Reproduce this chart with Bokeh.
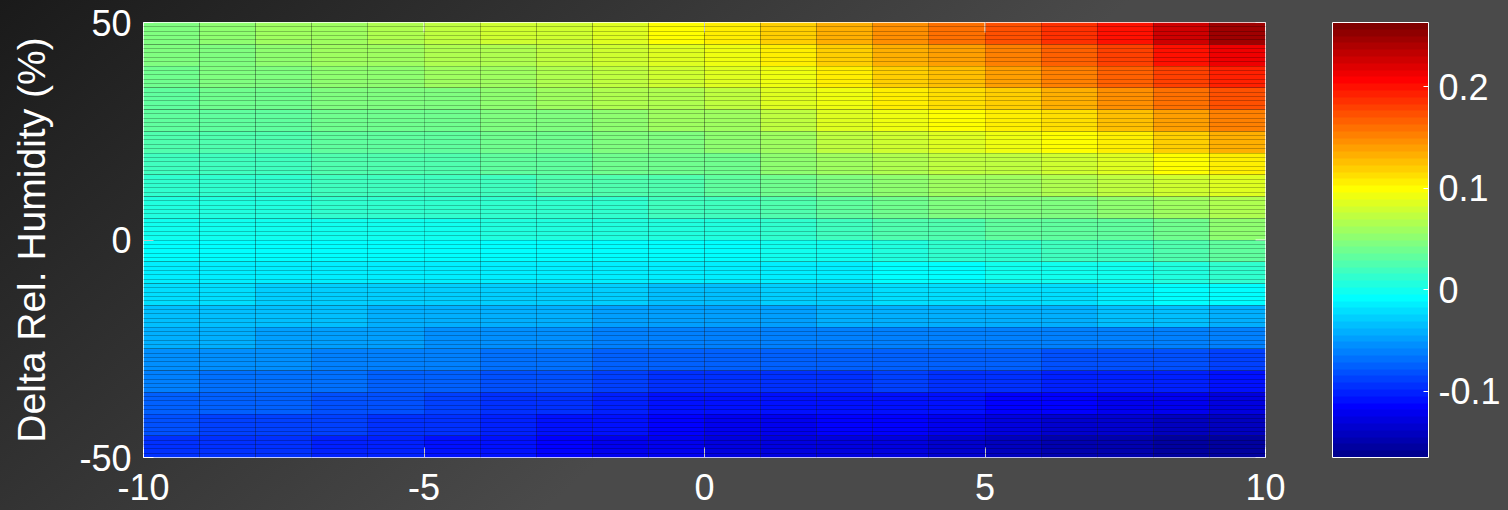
import numpy as np
from bokeh.plotting import figure
from bokeh.models import (ColumnDataSource, LinearColorMapper, ColorBar, FixedTicker,
                          SingleIntervalTicker, CustomJSTickFormatter)
from bokeh.transform import transform
from bokeh.embed import file_html
from bokeh.resources import INLINE

# Delta temperature: left edge of each column (unit-wide cells)
delta_t = [-10, -9, -8, -7, -6, -5, -4, -3, -2, -1, 0, 1, 2, 3, 4, 5, 6, 7, 8, 9]
# Delta relative humidity (%): centre of each 5 % band, bottom to top
delta_rh = [-47.5, -42.5, -37.5, -32.5, -27.5, -22.5, -17.5, -12.5, -7.5, -2.5,
            2.5, 7.5, 12.5, 17.5, 22.5, 27.5, 32.5, 37.5, 42.5, 47.5]

# Response value per band, one list per humidity band (columns follow delta_t)
rh_m475 = [-.093, -.096, -.098, -.101, -.103, -.106, -.110, -.115, -.119, -.124, -.128, -.128, -.127, -.128, -.135, -.141, -.146, -.150, -.154, -.158]
rh_m425 = [-.083, -.086, -.089, -.091, -.094, -.097, -.102, -.107, -.111, -.116, -.120, -.119, -.118, -.118, -.123, -.128, -.132, -.136, -.140, -.144]
rh_m375 = [-.072, -.075, -.078, -.081, -.084, -.087, -.092, -.097, -.102, -.106, -.110, -.109, -.107, -.106, -.110, -.113, -.116, -.119, -.123, -.127]
rh_m325 = [-.062, -.065, -.068, -.070, -.073, -.076, -.080, -.084, -.088, -.092, -.095, -.094, -.092, -.091, -.094, -.097, -.099, -.101, -.104, -.107]
rh_m275 = [-.052, -.054, -.057, -.059, -.062, -.064, -.067, -.070, -.073, -.076, -.078, -.077, -.075, -.074, -.075, -.077, -.079, -.080, -.083, -.085]
rh_m225 = [-.042, -.044, -.046, -.048, -.050, -.052, -.054, -.057, -.059, -.061, -.062, -.061, -.059, -.058, -.058, -.058, -.058, -.058, -.060, -.062]
rh_m175 = [-.033, -.034, -.036, -.037, -.039, -.040, -.042, -.043, -.045, -.046, -.047, -.045, -.043, -.041, -.040, -.040, -.038, -.036, -.037, -.038]
rh_m125 = [-.024, -.024, -.025, -.026, -.027, -.028, -.029, -.030, -.031, -.032, -.033, -.030, -.026, -.022, -.022, -.022, -.018, -.013, -.011, -.009]
rh_m75 = [-.016, -.016, -.016, -.016, -.017, -.017, -.017, -.017, -.017, -.017, -.017, -.015, -.012, -.009, -.005, -.002, .000, .002, .007, .012]
rh_m25 = [-.008, -.008, -.008, -.008, -.007, -.007, -.007, -.006, -.006, -.006, -.006, -.003, .000, .004, .009, .013, .017, .020, .025, .030]
rh_p25 = [.000, .000, .001, .001, .002, .002, .003, .004, .005, .006, .007, .013, .019, .025, .028, .030, .032, .035, .042, .050]
rh_p75 = [.007, .008, .008, .009, .009, .010, .012, .013, .015, .016, .018, .025, .033, .040, .043, .045, .049, .052, .060, .068]
rh_p125 = [.013, .014, .015, .016, .017, .018, .020, .023, .025, .028, .030, .037, .045, .052, .056, .060, .065, .070, .079, .088]
rh_p175 = [.019, .020, .022, .023, .025, .026, .029, .032, .036, .039, .042, .050, .058, .065, .070, .075, .081, .087, .097, .108]
rh_p225 = [.025, .027, .028, .030, .031, .033, .037, .041, .044, .048, .052, .062, .070, .078, .085, .090, .097, .105, .117, .130]
rh_p275 = [.030, .032, .034, .036, .038, .040, .044, .049, .053, .058, .062, .072, .083, .093, .099, .105, .115, .125, .139, .153]
rh_p325 = [.035, .038, .040, .043, .045, .048, .053, .058, .063, .068, .073, .083, .094, .104, .113, .122, .133, .145, .158, .172]
rh_p375 = [.040, .043, .046, .050, .053, .056, .061, .067, .072, .078, .084, .095, .107, .118, .128, .138, .150, .163, .178, .193]
rh_p425 = [.044, .048, .052, .056, .060, .064, .069, .075, .081, .088, .095, .106, .119, .132, .142, .152, .166, .180, .197, .215]
rh_p475 = [.048, .052, .056, .060, .065, .070, .076, .081, .088, .098, .106, .117, .132, .148, .160, .170, .186, .202, .224, .248]

bands = [rh_m475, rh_m425, rh_m375, rh_m325, rh_m275, rh_m225, rh_m175, rh_m125, rh_m75, rh_m25,
         rh_p25, rh_p75, rh_p125, rh_p175, rh_p225, rh_p275, rh_p325, rh_p375, rh_p425, rh_p475]

x_ticks = [-10, -5, 0, 5, 10]
y_ticks = [-50, 0, 50]
cbar_ticks = [-0.1, 0, 0.1, 0.2]
c_low, c_high = -0.165, 0.263


def jet(m=64):
    """MATLAB-style jet colormap with m entries, as hex strings."""
    n = int(np.ceil(m / 4))
    u = np.concatenate([np.arange(1, n + 1) / n, np.ones(n - 1), np.arange(n, 0, -1) / n])
    g = int(np.ceil(n / 2)) - (1 if m % 4 == 1 else 0) + np.arange(1, len(u) + 1)
    r = g + n
    b = g - n
    cmap = np.zeros((m, 3))
    cmap[r[r <= m] - 1, 0] = u[r <= m]
    cmap[g[g <= m] - 1, 1] = u[g <= m]
    cmap[b[b >= 1] - 1, 2] = u[b >= 1]
    return ["#%02x%02x%02x" % tuple(int(round(c * 255)) for c in row) for row in cmap]


palette = jet(64)
mapper = LinearColorMapper(palette=palette, low=c_low, high=c_high)

xs, ys, vals = [], [], []
for rh, band in zip(delta_rh, bands):
    for t, v in zip(delta_t, band):
        xs.append(t + 0.5)
        ys.append(rh)
        vals.append(v)
source = ColumnDataSource(dict(x=xs, y=ys, v=vals))

FONT = "Liberation Sans"
plain_numbers = CustomJSTickFormatter(code="return String(Math.round(tick * 10) / 10);")

p = figure(width=1508, height=510, x_range=(-10, 10), y_range=(-50, 50),
           output_backend="svg", toolbar_location=None,
           min_border_left=143, min_border_right=243,
           min_border_top=22, min_border_bottom=53)
p.border_fill_alpha = 0
p.background_fill_alpha = 0
p.styles = {"background": "linear-gradient(139deg, #1a1a1a 0%, #4a4a4a 54%, #4a4a4a 100%)"}
p.outline_line_color = "white"
p.outline_line_width = 1
p.outline_line_alpha = 1

p.rect(x="x", y="y", width=1, height=5, source=source,
       fill_color=transform("v", mapper), line_color=None)

# mesh edges drawn over the faces
p.xgrid.ticker = SingleIntervalTicker(interval=1)
p.ygrid.ticker = SingleIntervalTicker(interval=1)
p.xgrid.grid_line_color = "black"
p.ygrid.grid_line_color = "black"
p.xgrid.grid_line_alpha = 0.22
p.ygrid.grid_line_alpha = 0.24
p.xgrid.level = "overlay"
p.ygrid.level = "overlay"

for ax in (p.xaxis[0], p.yaxis[0]):
    ax.axis_line_color = None
    ax.major_tick_line_color = "white"
    ax.major_tick_in = 10
    ax.major_tick_out = 0
    ax.minor_tick_line_color = None
    ax.major_label_text_color = "white"
    ax.major_label_text_font = FONT
    ax.major_label_text_font_size = "36px"
    ax.major_label_standoff = 12
    ax.formatter = plain_numbers

p.xaxis.major_label_standoff = 16
p.xaxis.ticker = FixedTicker(ticks=x_ticks)
p.yaxis.ticker = FixedTicker(ticks=y_ticks)
p.yaxis.axis_label = "Delta Rel. Humidity (%)"
p.yaxis.axis_label_text_font = FONT
p.yaxis.axis_label_text_font_size = "39px"
p.yaxis.axis_label_text_font_style = "normal"
p.yaxis.axis_label_text_color = "white"
p.yaxis.axis_label_standoff = 23

# inward tick marks on the top and right edges of the box
x_hi = p.x_range.end
y_hi = p.y_range.end
p.ray(x=x_ticks, y=[y_hi] * len(x_ticks), length=10, length_units="screen",
      angle=-np.pi / 2, line_color="white", line_width=1)
p.ray(x=[x_hi] * len(y_ticks), y=y_ticks, length=10, length_units="screen",
      angle=np.pi, line_color="white", line_width=1)

cbar = ColorBar(color_mapper=mapper, width=96, height=435,
                ticker=FixedTicker(ticks=cbar_ticks), formatter=plain_numbers,
                major_label_text_font=FONT, major_label_text_font_size="36px",
                major_label_text_color="white", label_standoff=10,
                major_tick_line_color="white", major_tick_in=5, major_tick_out=0,
                minor_tick_line_color=None,
                bar_line_color="white", bar_line_width=1,
                background_fill_alpha=0, border_line_color=None,
                padding=0, margin=0, location=(1189, 0))
p.add_layout(cbar, "center")

open("out.html", "w").write(file_html(p, INLINE))
